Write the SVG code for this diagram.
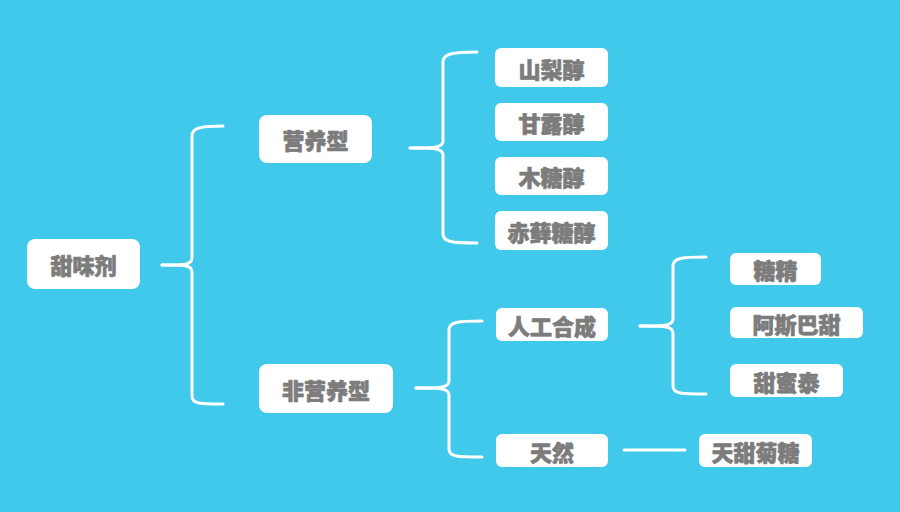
<svg xmlns="http://www.w3.org/2000/svg" width="900" height="512" viewBox="0 0 900 512">
<style>
.bg{fill:#41c9eb}
.box{fill:#ffffff}
.t{font-family:"Noto Sans CJK SC","Noto Sans",sans-serif;font-weight:900;font-size:22px;fill:#7c7c7c;stroke:#7c7c7c;stroke-width:0.7;stroke-linejoin:round;text-anchor:middle;dominant-baseline:central}
.c{fill:none;stroke:#ffffff;stroke-width:3;stroke-linecap:round;stroke-linejoin:round}
</style>
<rect class="bg" x="0" y="0" width="900" height="512"/>
<g id="connectors">
<path class="c" d="M162,265 C180,265 192,266 192,258 L192,136 C192,128 200,126 223,126"/>
<path class="c" d="M162,265 C180,265 192,264 192,272 L192,396 C192,404 200,404 223,404"/>
<path class="c" d="M410,148 C428,148 443,149 443,141 L443,62 C443,54 452,52 477,52"/>
<path class="c" d="M410,148 C428,148 443,147 443,155 L443,234 C443,242 452,243 477,243"/>
<path class="c" d="M416,388 C434,388 449,389 449,381 L449,330 C449,322 458,321 482,321"/>
<path class="c" d="M416,388 C434,388 449,387 449,395 L449,449 C449,457 458,457 482,457"/>
<path class="c" d="M640,326 C658,326 673,327 673,319 L673,266 C673,258 682,257 706,257"/>
<path class="c" d="M640,326 C658,326 673,325 673,333 L673,386 C673,394 682,394 706,394"/>
<path class="c" d="M624,450 L685,450"/>
</g>
<g id="n-root"><rect class="box" x="27" y="239" width="113" height="50" rx="8"/><text class="t" x="83.5" y="264">甜味剂</text></g>
<g id="n-yyx"><rect class="box" x="259" y="115" width="113" height="48" rx="8"/><text class="t" x="315.5" y="139">营养型</text></g>
<g id="n-fyyx"><rect class="box" x="259" y="364" width="134" height="49" rx="8"/><text class="t" x="326" y="388.5">非营养型</text></g>
<g id="n-sl"><rect class="box" x="495" y="48" width="113" height="39" rx="6"/><text class="t" x="551.5" y="67.5">山梨醇</text></g>
<g id="n-gl"><rect class="box" x="495" y="103" width="113" height="38" rx="6"/><text class="t" x="551.5" y="122">甘露醇</text></g>
<g id="n-mt"><rect class="box" x="495" y="157" width="113" height="38" rx="6"/><text class="t" x="551.5" y="176">木糖醇</text></g>
<g id="n-cx"><rect class="box" x="495" y="211" width="113" height="39" rx="6"/><text class="t" x="551.5" y="230.5">赤藓糖醇</text></g>
<g id="n-rghc"><rect class="box" x="496" y="308" width="112" height="33" rx="6"/><text class="t" x="552" y="324.5">人工合成</text></g>
<g id="n-tr"><rect class="box" x="496" y="434" width="112" height="33" rx="6"/><text class="t" x="552" y="450.5">天然</text></g>
<g id="n-tj"><rect class="box" x="730" y="253" width="91" height="32" rx="6"/><text class="t" x="775.5" y="269">糖精</text></g>
<g id="n-asbt"><rect class="box" x="730" y="307" width="133" height="31" rx="6"/><text class="t" x="796.5" y="322.5">阿斯巴甜</text></g>
<g id="n-tmt"><rect class="box" x="730" y="364" width="113" height="33" rx="6"/><text class="t" x="786.5" y="380.5">甜蜜泰</text></g>
<g id="n-ttjt"><rect class="box" x="699" y="434" width="113" height="33" rx="6"/><text class="t" x="755.5" y="450.5">天甜菊糖</text></g>
</svg>
